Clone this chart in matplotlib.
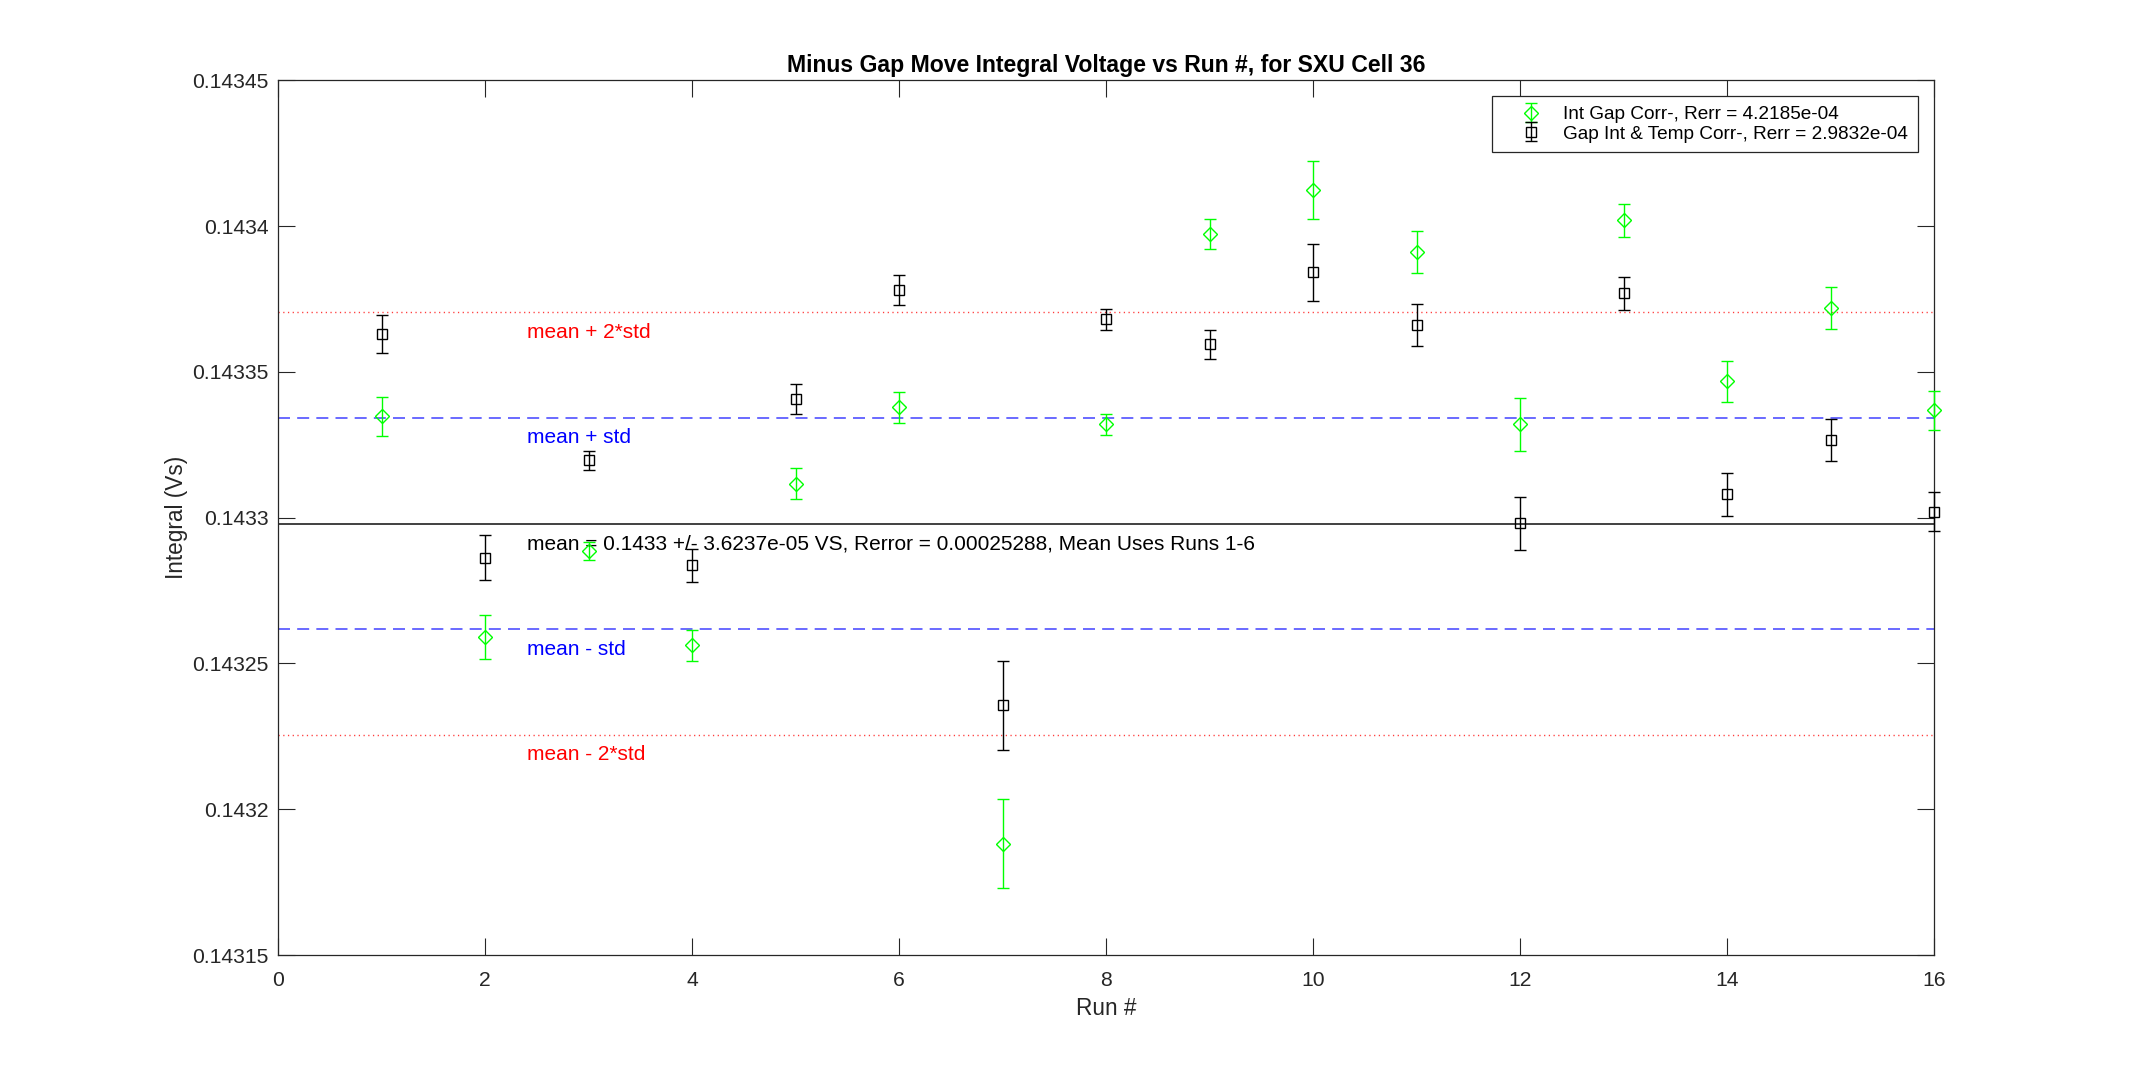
import matplotlib
matplotlib.use("Agg")
import matplotlib.pyplot as plt
import numpy as np

plt.rcParams['font.family'] = ['Liberation Sans', 'DejaVu Sans']

# ---- data ----
runs = [1, 2, 3, 4, 5, 6, 7, 8, 9, 10, 11, 12, 13, 14, 15, 16]
int_gap_corr = [0.1433348, 0.1432591, 0.1432885, 0.1432562, 0.1433117, 0.1433378,
                0.1431882, 0.1433320, 0.1433973, 0.1434123, 0.1433910, 0.1433320,
                0.1434020, 0.1433468, 0.1433718, 0.1433369]
int_gap_corr_err = [6.7e-6, 7.6e-6, 3.1e-6, 5.3e-6, 5.3e-6, 5.3e-6,
                    1.52e-5, 3.5e-6, 5.3e-6, 1.0e-5, 7.2e-6, 9.1e-6,
                    5.7e-6, 7.1e-6, 7.2e-6, 6.7e-6]
gap_temp_corr = [0.1433630, 0.1432863, 0.1433197, 0.1432837, 0.1433407, 0.1433781,
                 0.1432356, 0.1433681, 0.1433594, 0.1433841, 0.1433661, 0.1432980,
                 0.1433769, 0.1433080, 0.1433268, 0.1433021]
gap_temp_corr_err = [6.6e-6, 7.7e-6, 3.3e-6, 5.7e-6, 5.3e-6, 5.1e-6,
                     1.53e-5, 3.6e-6, 5.1e-6, 9.9e-6, 7.3e-6, 9.1e-6,
                     5.6e-6, 7.3e-6, 7.2e-6, 6.6e-6]
mean_val = 0.14329795
std_val = 3.6237e-05

series_labels = ['Int Gap Corr-, Rerr = 4.2185e-04',
                 'Gap Int & Temp Corr-, Rerr = 2.9832e-04']
mean_text = 'mean = 0.1433 +/- 3.6237e-05 VS, Rerror = 0.00025288, Mean Uses Runs 1-6'
band_labels = ['mean + 2*std', 'mean + std', 'mean - std', 'mean - 2*std']
band_mult = [2, 1, -1, -2]

xticks = [0, 2, 4, 6, 8, 10, 12, 14, 16]
yticks = [0.14315, 0.1432, 0.14325, 0.1433, 0.14335, 0.1434, 0.14345]
yticklabels = ['0.14315', '0.1432', '0.14325', '0.1433', '0.14335', '0.1434', '0.14345']

title = 'Minus Gap Move Integral Voltage vs Run #, for SXU Cell 36'
xlabel = 'Run #'
ylabel = 'Integral (Vs)'

# ---- figure ----
fig = plt.figure(figsize=(21.38, 10.75), dpi=100)
ax = fig.add_axes([0.1302, 0.1116, 0.9046 - 0.1302, 0.9253 - 0.1116])

axc = '#262626'
green = '#00ff00'
base_fs = 15.0

# horizontal reference lines
ax.axhline(mean_val, color='#404040', lw=1.4, zorder=1)
for m in band_mult:
    lvl = mean_val + m * std_val
    if abs(m) == 1:
        ax.axhline(lvl, color='#5050ff', lw=1.2, dashes=(7.2, 4.3), zorder=1)
    else:
        ax.axhline(lvl, color='#ff3b3b', lw=1.0, dashes=(0.9, 2.5), zorder=1)

# series
e1 = ax.errorbar(runs, int_gap_corr, yerr=int_gap_corr_err, fmt='D', ms=7.4,
                 mfc='none', mec=green, mew=1.0, ecolor=green, elinewidth=1.0,
                 capsize=4.3, capthick=1.0, color=green, label=series_labels[0], zorder=3)
e2 = ax.errorbar(runs, gap_temp_corr, yerr=gap_temp_corr_err, fmt='s', ms=7.4,
                 mfc='none', mec='black', mew=1.0, ecolor='black', elinewidth=1.0,
                 capsize=4.3, capthick=1.0, color='black', label=series_labels[1], zorder=3)
for cont in (e1, e2):
    for art in cont.get_children():
        art.set_clip_on(False)

# text annotations
band_text_colors = {2: '#ff0000', 1: '#0000ff', -1: '#0000ff', -2: '#ff0000'}
for lab, m in zip(band_labels, band_mult):
    ax.annotate(lab, xy=(2.4, mean_val + m * std_val), xytext=(0, -14.3),
                textcoords='offset points', ha='left', va='center',
                color=band_text_colors[m], fontsize=base_fs)
ax.annotate(mean_text, xy=(2.4, mean_val), xytext=(0, -14.3),
            textcoords='offset points', ha='left', va='center',
            color='black', fontsize=base_fs)

# axes styling
ax.set_xlim(0, 16)
ax.set_ylim(0.14315, 0.14345)
ax.set_xticks(xticks)
ax.set_xticklabels([str(t) for t in xticks])
ax.set_yticks(yticks)
ax.set_yticklabels(yticklabels)
ax.tick_params(direction='in', length=11.9, width=0.8, color=axc, labelcolor=axc,
               labelsize=15.2, top=True, right=True)
ax.tick_params(axis='x', pad=11.5)
ax.tick_params(axis='y', pad=7.2)
for sp in ax.spines.values():
    sp.set_color(axc)
    sp.set_linewidth(0.9)

ax.set_xlabel(xlabel, fontsize=16.3, color=axc, va='center')
ax.xaxis.set_label_coords(0.5, -0.061)
ax.set_ylabel(ylabel, fontsize=16.3, color=axc, va='center')
ax.yaxis.set_label_coords(-0.0615, 0.5)
ax.set_title(title, fontsize=16.6, fontweight='bold', color='black',
             y=1.0091, va='baseline', pad=0)

leg = ax.legend(loc='upper right', bbox_to_anchor=(1, 1), borderaxespad=0.85,
                fontsize=13.7, numpoints=1, handlelength=3.05, handletextpad=0.2,
                borderpad=0.5, labelspacing=0.1, fancybox=False, framealpha=1,
                edgecolor=axc)
leg.get_frame().set_linewidth(0.9)

fig.savefig('out.png', dpi=100, facecolor='white')
